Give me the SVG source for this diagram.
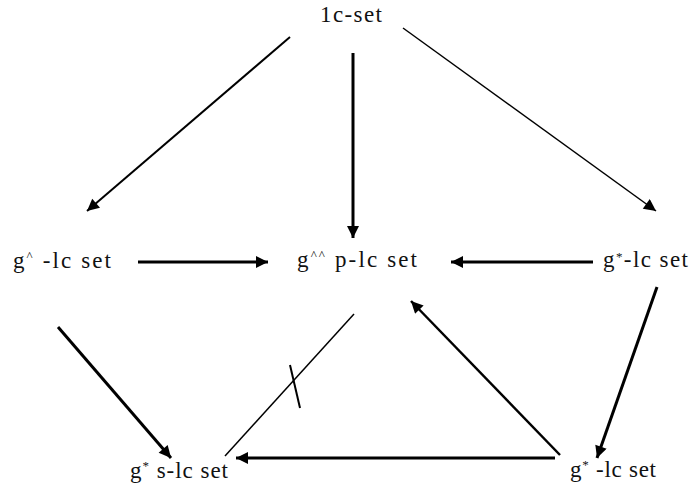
<svg xmlns="http://www.w3.org/2000/svg" width="692" height="485" viewBox="0 0 692 485">
<defs>
<marker id="ah" viewBox="0 0 10 10" refX="10" refY="5" markerWidth="14" markerHeight="12" markerUnits="userSpaceOnUse" orient="auto">
<path d="M0,0 L10,5 L0,10 z" fill="#000"/>
</marker>
<style>
.lbl{font-family:"Liberation Serif","Times New Roman",serif;font-size:23px;fill:#111;}
.sup{font-size:13px;}
.c{stroke:#000;fill:none;}
</style>
</defs>
<rect width="692" height="485" fill="#fff"/>
<g id="n-lc"><text class="lbl" x="320" y="22" textLength="62">1c-set</text></g>
<g id="n-ghat"><text class="lbl" x="13" y="268" textLength="98">g<tspan class="sup" dy="-8">^</tspan><tspan dy="8"> -lc set</tspan></text></g>
<g id="n-ghathat"><text class="lbl" x="297" y="267" textLength="120">g<tspan class="sup" dy="-8">^^</tspan><tspan dy="8"> p-lc set</tspan></text></g>
<g id="n-gstar"><text class="lbl" x="603" y="267" textLength="85">g<tspan class="sup" dy="-6">*</tspan><tspan dy="6">-lc set</tspan></text></g>
<g id="n-gs"><text class="lbl" x="130" y="478" textLength="98">g<tspan class="sup" dy="-8">*</tspan><tspan dy="8"> s-lc set</tspan></text></g>
<g id="n-gstar2"><text class="lbl" x="570" y="477" textLength="86">g<tspan class="sup" dy="-8">*</tspan><tspan dy="8"> -lc set</tspan></text></g>
<g id="connectors">
<line class="c" x1="290" y1="37" x2="87" y2="211" stroke-width="2" marker-end="url(#ah)"/>
<line class="c" x1="353" y1="53" x2="353" y2="238" stroke-width="3" marker-end="url(#ah)"/>
<line class="c" x1="403" y1="28" x2="656" y2="211" stroke-width="1.5" marker-end="url(#ah)"/>
<line class="c" x1="138" y1="262" x2="268" y2="262" stroke-width="3" marker-end="url(#ah)"/>
<line class="c" x1="593" y1="262" x2="451" y2="262" stroke-width="3" marker-end="url(#ah)"/>
<line class="c" x1="58" y1="327" x2="171" y2="458" stroke-width="3" marker-end="url(#ah)"/>
<line class="c" x1="657" y1="287" x2="597" y2="458" stroke-width="3" marker-end="url(#ah)"/>
<line class="c" x1="560" y1="455" x2="411" y2="301" stroke-width="2.5" marker-end="url(#ah)"/>
<line class="c" x1="555" y1="458" x2="236" y2="458" stroke-width="3" marker-end="url(#ah)"/>
<line class="c" x1="354" y1="314" x2="225" y2="456" stroke-width="1.5"/>
<line class="c" x1="290" y1="365" x2="300" y2="408" stroke-width="2"/>
</g>
</svg>
